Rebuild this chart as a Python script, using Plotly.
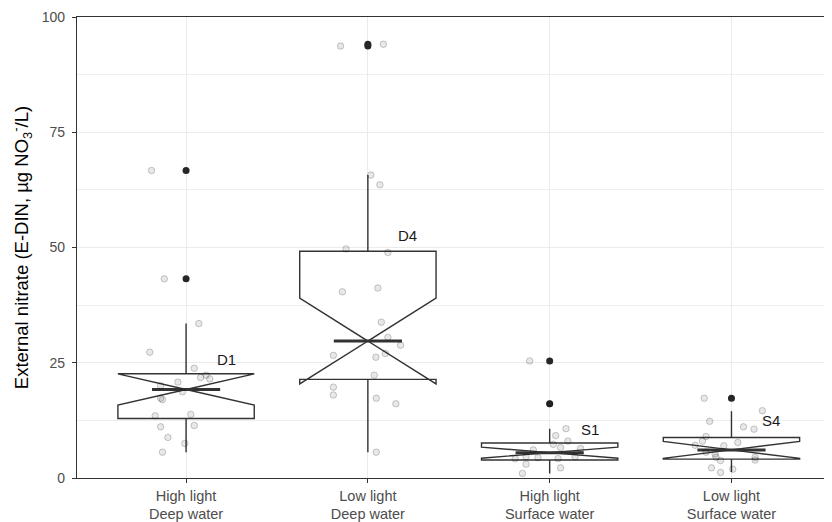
import plotly.graph_objects as go

# ---- data ----
categories = ["High light<br>Deep water", "Low light<br>Deep water",
              "High light<br>Surface water", "Low light<br>Surface water"]
labels = ["D1", "D4", "S1", "S4"]

# box statistics
q1 = [12.9, 21.4, 3.9, 4.1]
median = [19.2, 29.7, 5.5, 6.1]
q3 = [22.6, 49.2, 7.6, 8.8]
lowerfence = [5.6, 5.6, 1.0, 1.3]
upperfence = [33.5, 65.7, 10.7, 14.5]
notchspan = [3.4, 9.3, 1.2, 1.85]

# outliers
out_d1 = [66.7, 43.2]
out_d4 = [93.7, 94.1]
out_s1 = [25.4, 16.1]
out_s4 = [17.3]

# raw observations (jittered in the reference) and their horizontal jitter
d1_vals = [66.7, 43.2, 33.5, 27.3, 23.8, 21.8, 22.3, 21.5, 20.8, 20.0, 18.7, 17.3, 17.0,
           13.5, 13.8, 11.1, 11.4, 8.8, 7.5, 5.6]
d1_jit = [-0.19, -0.12, 0.07, -0.20, 0.045, 0.08, 0.11, 0.13, -0.045, -0.14, -0.02, -0.14, -0.13,
          -0.17, 0.026, -0.14, 0.045, -0.10, -0.007, -0.13]
d4_vals = [93.7, 94.1, 65.7, 63.6, 49.7, 48.9, 40.4, 41.2, 33.8, 30.5, 28.8, 26.6, 26.2, 27.0,
           22.3, 19.7, 18.0, 17.3, 16.1, 5.6]
d4_jit = [-0.15, 0.085, 0.016, 0.066, -0.12, 0.11, -0.14, 0.055, 0.074, 0.11, 0.18, -0.19, 0.044,
          0.096, 0.035, -0.19, -0.19, 0.046, 0.154, 0.046]
s1_vals = [25.4, 16.1, 10.7, 9.2, 8.0, 7.3, 6.6, 6.1, 6.4, 4.2, 4.6, 4.4, 4.2, 4.6, 3.0, 2.2, 1.0]
s1_jit = [-0.11, 0.0, 0.09, 0.033, 0.10, 0.02, 0.06, -0.09, 0.17, -0.19, -0.13, -0.064, 0.046,
          0.14, -0.13, 0.06, -0.15]
s4_vals = [17.3, 14.6, 12.3, 11.1, 10.6, 9.0, 8.0, 7.7, 7.1, 7.0, 5.6, 5.2, 4.5, 3.8, 4.5, 3.9,
           2.2, 1.9, 1.2]
s4_jit = [-0.15, 0.17, -0.12, 0.066, 0.124, -0.14, -0.16, 0.035, -0.20, -0.042, -0.14, -0.09,
          -0.085, -0.06, 0.13, 0.13, -0.11, 0.007, -0.06]

label_y = [25.6, 52.5, 10.6, 12.5]

y_ticks = [0, 25, 50, 75, 100]

# ---- figure ----
box_width = 0.75
notch_width = 0.5
line_col = "#333333"

fig = go.Figure()

positions = [1, 2, 3, 4]
for i, pos in enumerate(positions):
    fig.add_trace(go.Box(
        x=[pos], q1=[q1[i]], median=[median[i]], q3=[q3[i]],
        lowerfence=[lowerfence[i]], upperfence=[upperfence[i]],
        notchspan=[notchspan[i]], notched=True, notchwidth=notch_width,
        width=box_width, whiskerwidth=0, boxpoints=False,
        fillcolor="white", line=dict(color=line_col, width=1.4),
        showlegend=False, hoverinfo="skip",
    ))
    # thick median line (ggplot fatten)
    half = box_width * (1 - notch_width) / 2
    fig.add_trace(go.Scatter(
        x=[pos - half, pos + half], y=[median[i], median[i]], mode="lines",
        line=dict(color=line_col, width=3), showlegend=False, hoverinfo="skip",
    ))

outliers = [out_d1, out_d4, out_s1, out_s4]
for pos, outs in zip(positions, outliers):
    fig.add_trace(go.Scatter(
        x=[pos] * len(outs), y=outs, mode="markers",
        marker=dict(color="#262626", size=7),
        showlegend=False, hoverinfo="skip",
    ))

groups = [(d1_vals, d1_jit), (d4_vals, d4_jit), (s1_vals, s1_jit), (s4_vals, s4_jit)]
for pos, (vals, jit) in zip(positions, groups):
    fig.add_trace(go.Scatter(
        x=[pos + j for j in jit], y=vals, mode="markers",
        marker=dict(color="rgba(0,0,0,0.09)", size=6.5,
                    line=dict(color="rgba(0,0,0,0.2)", width=1)),
        showlegend=False, hoverinfo="skip",
    ))

for pos, lab, ly in zip(positions, labels, label_y):
    fig.add_annotation(x=pos + 0.22, y=ly, text=lab, showarrow=False,
                       font=dict(size=15, color="#1a1a1a"))

# the page body has an 8px default margin, so the figure is 8px smaller
fig.update_layout(
    width=824, height=514,
    margin=dict(l=69, r=0, t=9, b=44),
    paper_bgcolor="white", plot_bgcolor="white",
    font=dict(family="Liberation Sans, Arial, sans-serif"),
)
fig.update_xaxes(
    range=[0.4, 4.553], tickmode="array", tickvals=positions, ticktext=categories,
    automargin=False,
    showgrid=True, gridcolor="#EBEBEB", gridwidth=1, zeroline=False,
    showline=True, linecolor=line_col, linewidth=1.2, mirror=True,
    ticks="outside", ticklen=4, tickcolor=line_col,
    tickfont=dict(size=14.5, color="#4D4D4D"),
)
fig.update_yaxes(
    range=[0, 100], tickmode="array", tickvals=y_ticks,
    automargin=False,
    showgrid=True, gridcolor="#EBEBEB", gridwidth=1, zeroline=False,
    minor=dict(showgrid=True, gridcolor="#EEEEEE", gridwidth=1, dtick=12.5, tick0=0, ticks=""),
    showline=True, linecolor=line_col, linewidth=1.2, mirror=False,
    ticks="outside", ticklen=4, tickcolor=line_col, ticklabelstandoff=4,
    tickfont=dict(size=14, color="#4D4D4D"),
    title=dict(text="External nitrate (E-DIN, µg NO<sub>3</sub><sup>-</sup>/L)",
               font=dict(size=18.5, color="black"), standoff=14),
)

fig.write_html("out.html")
